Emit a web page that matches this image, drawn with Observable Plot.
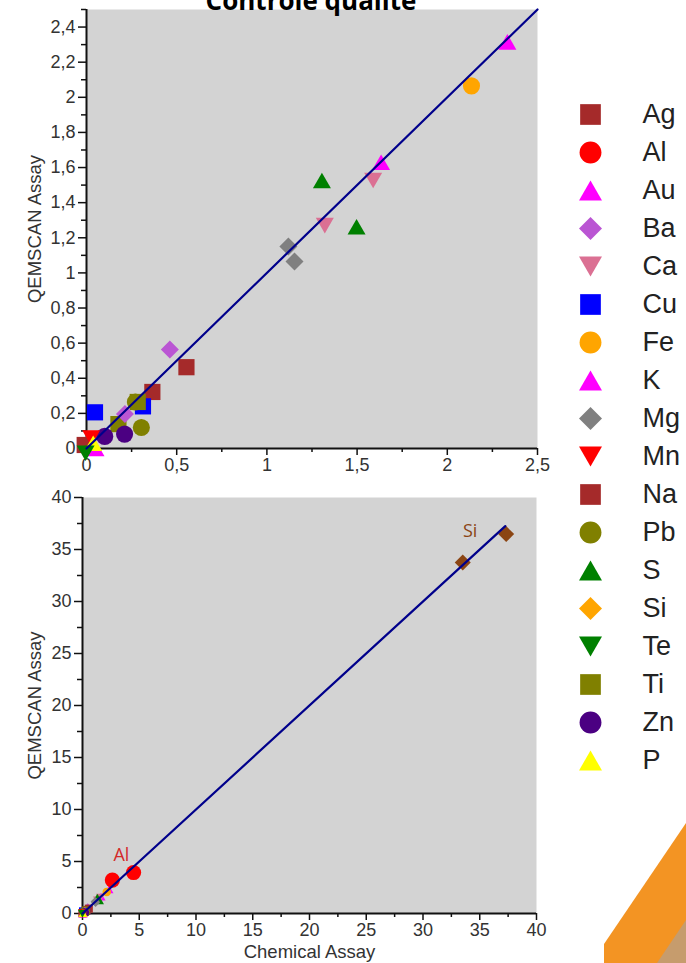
<!DOCTYPE html>
<html>
<head>
<meta charset="utf-8">
<script src="https://cdn.jsdelivr.net/npm/d3@7"></script>
<script src="https://cdn.jsdelivr.net/npm/@observablehq/plot@0.6"></script>
<style>
  html, body { margin: 0; padding: 0; background: #fff; width: 686px; height: 963px; overflow: hidden; }
  #root { position: relative; width: 686px; height: 963px; }
  .abs { position: absolute; }
  #title { left: 0; width: 622px; top: -18px; text-align: center; font: bold 26px "Open Sans", sans-serif; color: #000; z-index: 5; white-space: nowrap; }
  #deco1, #deco2 { left: 560px; top: 780px; width: 126px; height: 183px; }
  #deco1 { background: #F39423; clip-path: polygon(44px 183px, 44px 164px, 126px 43px, 126px 183px); }
  #deco2 { background: #C69C6D; clip-path: polygon(97px 183px, 126px 140px, 126px 183px); }
  g[aria-label$="tick label"], g[aria-label$="tick label"] text { font-size: 18px !important; }
</style>
</head>
<body>
<div id="root">
  <div id="top" class="abs" style="left:0;top:0"></div>
  <div id="bottom" class="abs" style="left:0;top:486px"></div>
  <div id="legend" class="abs" style="left:560px;top:0"></div>
  <div id="deco1" class="abs"></div>
  <div id="deco2" class="abs"></div>
  <div id="title" class="abs">Contrôle qualité</div>
</div>
<script>
// ---------- data ----------
const elements = ["Ag","Al","Au","Ba","Ca","Cu","Fe","K","Mg","Mn","Na","Pb","S","Si","Te","Ti","Zn","P"];
const elementColors = ["#A52A2A","#FF0000","#FF00FF","#BA55D3","#DB7093","#0000FF","#FFA500","#FF00FF","#808080","#FF0000","#A52A2A","#808000","#008000","#FFA500","#008000","#808000","#4B0082","#FFFF00"];
const elementShapes = ["square","circle","triangle","diamond","triangleDown","square","circle","triangle","diamond","triangleDown","square","circle","triangle","diamond","triangleDown","square","circle","triangle"];
const bottomSiColor = "#8B4513";

const sampleElement = ["Au","K","Fe","Ca","Ca","S","S","Mg","Mg","Ba","Na","Na","Cu","Cu","Ti","Pb","Ti","Pb","Ba","Zn","Zn","Ag","Mn","K","P","Te","Al","Al","Si","Si"];
const chemicalAssay = [1.633,2.333,2.134,1.589,1.321,1.305,1.497,1.119,1.153,0.462,0.554,0.365,0.047,0.313,0.177,0.304,0.284,0.271,0.213,0.101,0.211,-0.01,0.026,0.05,0.037,-0.005,2.63,4.5,33.5,37.33];
const qemscanAssay  = [1.63,2.316,2.065,1.526,1.269,1.526,1.263,1.15,1.065,0.564,0.463,0.322,0.206,0.24,0.139,0.12,0.265,0.265,0.196,0.069,0.082,0.02,0.059,0.0,0.03,-0.027,3.21,3.94,33.75,36.48];

const topXTicks = [0,0.5,1,1.5,2,2.5];
const topXMinor = [0.25,0.75,1.25,1.75,2.25];
const topYTicks = [0,0.2,0.4,0.6,0.8,1,1.2,1.4,1.6,1.8,2,2.2,2.4];
const topYMinor = [0.1,0.3,0.5,0.7,0.9,1.1,1.3,1.5,1.7,1.9,2.1,2.3,2.5];
const bottomTicks = [0,5,10,15,20,25,30,35,40];
const bottomMinor = [2.5,7.5,12.5,17.5,22.5,27.5,32.5,37.5];
const topFitLine = [0, 2.5];
const bottomFitLine = [0, 37.25];
const annotated = ["Al","Si"];
const annotationColors = ["#D42A2A", "#8B4513"];

// ---------- helpers ----------
const samples = sampleElement.map((el, i) => ({el, chem: chemicalAssay[i], qem: qemscanAssay[i]}));
const R = size => Math.sqrt(size / Math.PI);
const symbolDefs = {
  square: {draw(c, s) { const h = 0.9 * R(s); c.moveTo(-h, -h); c.lineTo(h, -h); c.lineTo(h, h); c.lineTo(-h, h); c.closePath(); }},
  circle: {draw(c, s) { const r = 0.95 * R(s); c.moveTo(r, 0); c.arc(0, 0, r, 0, 2 * Math.PI); }},
  triangle: {draw(c, s) { const r = R(s), h = 0.87 * r; c.moveTo(0, -h); c.lineTo(r, h); c.lineTo(-r, h); c.closePath(); }},
  triangleDown: {draw(c, s) { const r = R(s), h = 0.87 * r; c.moveTo(0, h); c.lineTo(r, -h); c.lineTo(-r, -h); c.closePath(); }},
  diamond: {draw(c, s) { const r = R(s); c.moveTo(0, -r); c.lineTo(r, 0); c.lineTo(0, r); c.lineTo(-r, 0); c.closePath(); }}
};
const symbolRange = elementShapes.map(s => symbolDefs[s]);
const comma = d => String(d).replace(".", ",");
const font = '"Liberation Sans", Arial, sans-serif';
const axisStyle = {fontFamily: font, fontSize: "18px", color: "#333", background: "transparent", overflow: "visible"};
const ink = "#111";
const tickFont = 18;
const titleFont = 18.5;

// ---------- top chart ----------
const topData = samples.filter(d => d.chem <= 2.5);
const topFit = topFitLine.map(v => ({x: v, y: v}));
const topChart = Plot.plot({
  width: 538, height: 486,
  marginTop: 9, marginBottom: 38, marginLeft: 86, marginRight: 1,
  style: axisStyle,
  x: {domain: [0, 2.5], label: null},
  y: {domain: [0, 2.5], label: null},
  color: {domain: elements, range: elementColors},
  symbol: {domain: elements, range: symbolRange},
  marks: [
    Plot.frame({fill: "#D3D3D3", stroke: null}),
    Plot.axisX(topXMinor, {tickSize: 4, tickFormat: () => "", stroke: ink, strokeWidth: 1.5}),
    Plot.axisX(topXTicks, {tickSize: 7, tickPadding: 3, tickFormat: comma, stroke: ink, strokeWidth: 1.5, fill: "#333", fontSize: tickFont}),
    Plot.axisY(topYMinor, {tickSize: 5, tickFormat: () => "", stroke: ink, strokeWidth: 1.5}),
    Plot.axisY(topYTicks, {tickSize: 8, tickPadding: 3, tickFormat: comma, stroke: ink, strokeWidth: 1.5, fill: "#333", fontSize: tickFont}),
    Plot.ruleX([0], {stroke: ink, strokeWidth: 2}),
    Plot.ruleY([0], {stroke: ink, strokeWidth: 2}),
    Plot.dot(topData, {x: "chem", y: "qem", fill: "el", symbol: "el", r: 9}),
    Plot.line(topFit, {x: "x", y: "y", stroke: "#00008B", strokeWidth: 2.2}),
    Plot.text(["QEMSCAN Assay"], {frameAnchor: "left", dx: -51, rotate: -90, textAnchor: "middle", lineAnchor: "middle", fontSize: titleFont, fill: "#333", text: d => d})
  ]
});
document.getElementById("top").appendChild(topChart);

// ---------- bottom chart ----------
const bottomColors = elements.map((e, i) => e === "Si" ? bottomSiColor : elementColors[i]);
const bottomMajor = samples.filter(d => annotated.includes(d.el));
const bottomMinorPts = samples.filter(d => !annotated.includes(d.el));
const bottomFit = bottomFitLine.map(v => ({x: v, y: v}));
const labelAnchors = annotated.map((el, i) => {
  const pts = samples.filter(d => d.el === el);
  const p = el === "Si" ? pts[pts.length - 1] : pts[0];
  return {el, chem: p.chem, qem: p.qem, color: annotationColors[i]};
});
const bottomChart = Plot.plot({
  width: 537, height: 477,
  marginTop: 11, marginBottom: 50, marginLeft: 82, marginRight: 1,
  style: axisStyle,
  x: {domain: [0, 40], label: null},
  y: {domain: [0, 40], label: null},
  color: {domain: elements, range: bottomColors},
  symbol: {domain: elements, range: symbolRange},
  marks: [
    Plot.frame({fill: "#D3D3D3", stroke: null}),
    Plot.axisX(bottomMinor, {tickSize: 4, tickFormat: () => "", stroke: ink, strokeWidth: 1.5}),
    Plot.axisX(bottomTicks, {tickSize: 7, tickPadding: 3, stroke: ink, strokeWidth: 1.5, fill: "#333", fontSize: tickFont}),
    Plot.axisY(bottomMinor, {tickSize: 5, tickFormat: () => "", stroke: ink, strokeWidth: 1.5}),
    Plot.axisY(bottomTicks, {tickSize: 8, tickPadding: 3, stroke: ink, strokeWidth: 1.5, fill: "#333", fontSize: tickFont}),
    Plot.ruleX([0], {stroke: ink, strokeWidth: 2}),
    Plot.ruleY([0], {stroke: ink, strokeWidth: 2}),
    Plot.dot(bottomMinorPts, {x: "chem", y: "qem", fill: "el", symbol: "el", r: 4.5}),
    Plot.dot(bottomMajor, {x: "chem", y: "qem", fill: "el", symbol: "el", r: 8}),
    Plot.line(bottomFit, {x: "x", y: "y", stroke: "#00008B", strokeWidth: 2.2}),
    Plot.text(labelAnchors.filter(d => d.el === "Si"), {x: "chem", y: "qem", text: "el", dx: -36, dy: -3, fill: d => d.color, fontSize: 18, fontFamily: '"Open Sans", sans-serif'}),
    Plot.text(labelAnchors.filter(d => d.el === "Al"), {x: "chem", y: "qem", text: "el", dx: 9, dy: -25, fill: d => d.color, fontSize: 18, fontFamily: '"Open Sans", sans-serif'}),
    Plot.text(["QEMSCAN Assay"], {frameAnchor: "left", dx: -47, rotate: -90, textAnchor: "middle", lineAnchor: "middle", fontSize: titleFont, fill: "#333", text: d => d}),
    Plot.text(["Chemical Assay"], {frameAnchor: "bottom", dy: 39, textAnchor: "middle", lineAnchor: "middle", fontSize: titleFont, fill: "#333", text: d => d})
  ]
});
document.getElementById("bottom").appendChild(bottomChart);

// ---------- legend ----------
const legend = Plot.plot({
  width: 126, height: 800,
  marginLeft: 30, marginRight: 0, marginTop: 0, marginBottom: 0,
  style: {fontFamily: font, background: "transparent", overflow: "visible"},
  y: {type: "point", domain: elements, range: [110.5, 763], padding: 0, axis: null},
  color: {domain: elements, range: elementColors},
  symbol: {domain: elements, range: symbolRange},
  marks: [
    Plot.dot(elements, {frameAnchor: "left", y: d => d, fill: d => d, symbol: d => d, r: 11.5}),
    Plot.text(elements, {frameAnchor: "left", y: d => d, text: d => d, dx: 52, textAnchor: "start", fontSize: 27, fill: "#222"})
  ]
});
document.getElementById("legend").appendChild(legend);
</script>
</body>
</html>
